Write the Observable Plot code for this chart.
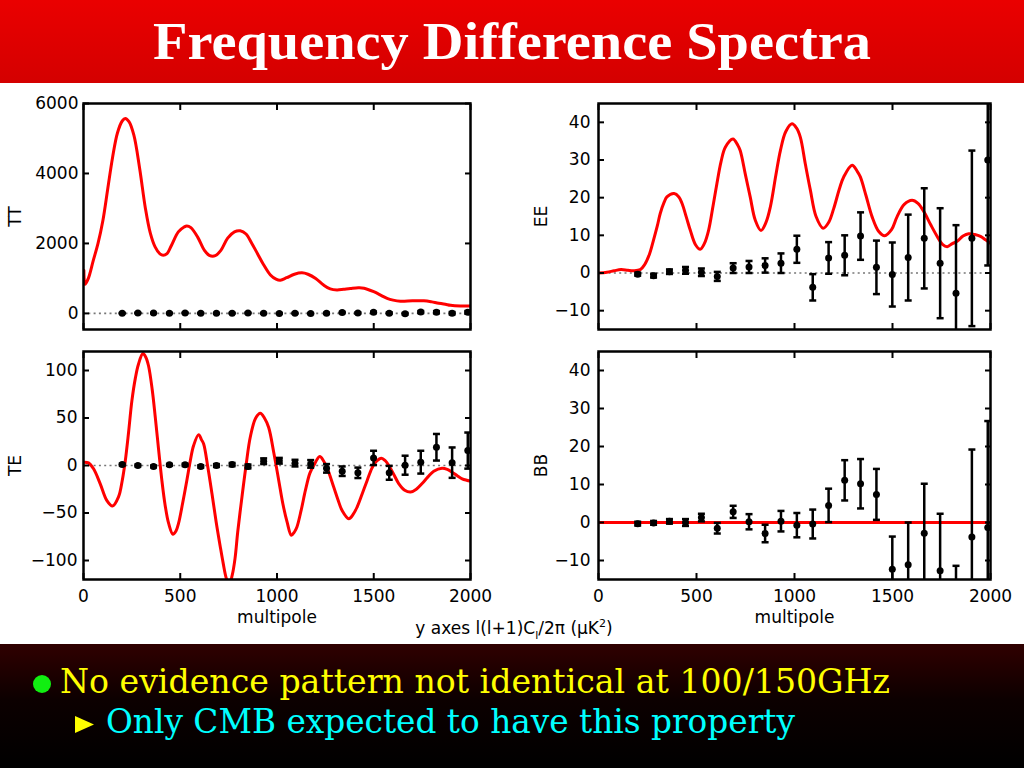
<!DOCTYPE html>
<html><head><meta charset="utf-8">
<script src="https://cdn.jsdelivr.net/npm/d3@7"></script>
<script src="https://cdn.jsdelivr.net/npm/@observablehq/plot@0.6"></script>
<style>
html,body{margin:0;padding:0;background:#fff;}
#page{position:relative;width:1024px;height:768px;overflow:hidden;background:#fff;}
.abs{position:absolute;}
</style>
</head><body>
<div id="page">
  <svg class="abs" style="left:0;top:0" width="1024" height="83">
    <defs><linearGradient id="hg" x1="0" y1="0" x2="0" y2="1"><stop offset="0" stop-color="#ea0000"/><stop offset="1" stop-color="#d40000"/></linearGradient></defs>
    <rect width="1024" height="83" fill="url(#hg)"/>
    <text x="512" y="59" text-anchor="middle" textLength="718" lengthAdjust="spacingAndGlyphs" font-family="Liberation Serif" font-weight="bold" font-size="52" fill="#fff">Frequency Difference Spectra</text>
  </svg>
  <div id="tt" class="abs" style="left:0;top:90px"></div>
  <div id="ee" class="abs" style="left:520px;top:90px"></div>
  <div id="te" class="abs" style="left:0;top:340px"></div>
  <div id="bb" class="abs" style="left:520px;top:340px"></div>
  <svg class="abs" style="left:0;top:600px" width="1024" height="44">
    <text x="514" y="34" text-anchor="middle" font-family="DejaVu Sans" font-size="17" fill="#000">y axes l(l+1)C<tspan dy="5" font-size="11">l</tspan><tspan dy="-5">/2π (μK</tspan><tspan dy="-7" font-size="11">2</tspan><tspan dy="7">)</tspan></text>
  </svg>
  <svg class="abs" style="left:0;top:644px" width="1024" height="124">
    <defs><linearGradient id="fg" x1="0" y1="0" x2="0" y2="1"><stop offset="0" stop-color="#300000"/><stop offset="0.45" stop-color="#0c0000"/><stop offset="1" stop-color="#000"/></linearGradient></defs>
    <rect width="1024" height="124" fill="url(#fg)"/>
    <circle cx="42" cy="40" r="9" fill="#11ee11"/>
    <text x="60" y="48.5" textLength="830" lengthAdjust="spacingAndGlyphs" font-family="DejaVu Serif" font-size="33" fill="#ffff00">No evidence pattern not identical at 100/150GHz</text>
    <polygon points="75,72 94,80.5 75,89" fill="#ffff00"/>
    <text x="106" y="88.5" textLength="689" lengthAdjust="spacingAndGlyphs" font-family="DejaVu Serif" font-size="33" fill="#00ffff">Only CMB expected to have this property</text>
  </svg>
</div>
<script>
// multipole bin centres
const ells = [200, 281, 362, 444, 525, 606, 687, 768, 850, 931, 1012, 1093, 1174, 1256, 1337, 1418, 1499, 1580, 1662, 1743, 1824, 1905, 1986];
const xTicks = [0, 500, 1000, 1500, 2000];

// difference-spectrum band powers and errors
const ttVals = [5, 10, 10, 8, 12, 5, 2, 6, 10, 3, 0, 2, -5, 3, 25, 10, 30, 8, -10, 40, 35, 5, 30];
const ttErrs = [8, 8, 8, 8, 9, 9, 10, 10, 11, 12, 13, 14, 15, 16, 18, 19, 21, 23, 25, 28, 31, 34, 38];
const eeVals = [-0.3, -0.7, 0.35, 0.7, 0.2, -0.9, 1.3, 1.6, 2.0, 2.6, 6.3, -3.8, 4.0, 4.7, 9.8, 1.5, -0.4, 4.1, 9.2, 2.6, -5.4, 9.2, 30];
const eeErrs = [0.4, 0.5, 0.6, 0.9, 1.0, 1.2, 1.3, 1.6, 1.9, 2.6, 3.6, 3.5, 4.2, 5.3, 6.3, 7.1, 8.5, 11.4, 13.3, 14.6, 18.1, 23.3, 28];
const teVals = [1, 0, -1, 0.7, 0.7, -1, 0, 1, -1, 4.5, 5, 2.5, 1.7, -3, -6, -7.7, 8, -7.7, 0.3, 3.5, 19.2, 3, 15.7];
const teErrs = [1, 1, 1, 1, 1.2, 1.3, 1.5, 1.7, 2, 3, 3, 3.5, 4, 4.5, 5, 5.5, 7.5, 7.3, 10, 12, 14, 16, 19];
const bbVals = [-0.3, -0.1, 0.3, 0, 1.3, -1.5, 2.8, 0.2, -2.9, 0.35, -0.7, -0.4, 4.5, 11.1, 10.2, 7.4, -12.3, -11.1, -2.8, -12.7, -29, -3.8, -1.3];
const bbErrs = [0.5, 0.5, 0.6, 0.9, 1.0, 1.4, 1.6, 2.0, 2.3, 2.7, 3.2, 3.8, 4.4, 5.3, 6.5, 6.7, 8.6, 11.1, 13, 15, 17.6, 23, 28];

// model spectra (red curves)
const ttModelL = [2, 8, 25, 50, 75, 100, 125, 150, 175, 200, 216, 235, 260, 290, 320, 345, 370, 395, 412, 430, 455, 490, 520, 534, 555, 590, 625, 650, 681, 710, 745, 780, 810, 840, 870, 900, 930, 966, 995, 1017, 1050, 1090, 1129, 1160, 1200, 1241, 1275, 1310, 1345, 1379, 1420, 1450, 1500, 1540, 1569, 1600, 1638, 1700, 1759, 1800, 1828, 1870, 1897, 1948, 2000];
const ttModelV = [1230, 830, 1000, 1500, 2000, 2650, 3550, 4450, 5150, 5500, 5570, 5480, 5100, 4150, 3000, 2300, 1900, 1700, 1660, 1700, 1950, 2330, 2470, 2500, 2450, 2180, 1800, 1660, 1650, 1800, 2150, 2330, 2360, 2270, 2000, 1700, 1400, 1100, 980, 950, 1020, 1120, 1160, 1120, 1000, 810, 700, 670, 690, 710, 730, 720, 620, 510, 430, 380, 350, 360, 360, 330, 300, 260, 230, 210, 210];
const eeModelL = [0, 43, 80, 115, 150, 180, 213, 235, 260, 281, 300, 315, 335, 349, 386, 410, 426, 450, 468, 495, 519, 540, 562, 585, 604, 625, 647, 686, 710, 723, 750, 774, 800, 829, 855, 877, 905, 928, 955, 987, 1010, 1030, 1055, 1081, 1110, 1146, 1175, 1200, 1230, 1251, 1294, 1320, 1336, 1365, 1396, 1430, 1460, 1495, 1523, 1560, 1600, 1630, 1660, 1695, 1728, 1755, 1779, 1805, 1830, 1860, 1889, 1920, 1949, 1975, 2000];
const eeModelV = [0, 0.2, 0.6, 0.9, 0.7, 0.6, 0.9, 2.2, 5, 8.8, 12.5, 15.8, 18.8, 20.2, 21.1, 20.2, 18.5, 14.5, 11.4, 7.5, 6.3, 7.8, 11.4, 18, 23.7, 29.5, 33.4, 35.6, 34, 32.5, 26, 20.2, 14, 11.3, 13.5, 17.6, 26, 32.5, 37.5, 39.6, 38.5, 36, 29, 22, 15, 11.9, 13.5, 17.1, 22.5, 25.5, 28.6, 27, 25.5, 20.5, 14.9, 11, 9.9, 11.5, 14.9, 18.2, 19.3, 18.5, 16.3, 12.8, 9.7, 7.6, 7.0, 7.8, 8.4, 9.8, 10.4, 10.2, 9.7, 8.8, 7.9];
const teModelL = [2, 26, 52, 86, 121, 150, 181, 200, 216, 233, 250, 268, 284, 307, 322, 336, 355, 371, 388, 405, 422, 440, 462, 478, 491, 512, 534, 552, 569, 595, 610, 621, 642, 664, 686, 707, 722, 737, 752, 768, 783, 797, 819, 840, 862, 890, 914, 935, 957, 983, 1009, 1030, 1052, 1074, 1090, 1103, 1125, 1147, 1170, 1190, 1221, 1240, 1260, 1293, 1315, 1336, 1371, 1395, 1414, 1440, 1466, 1490, 1509, 1540, 1560, 1578, 1605, 1629, 1660, 1690, 1720, 1750, 1780, 1810, 1853, 1880, 1905, 1930, 1957, 1980, 2000];
const teModelV = [3.5, 2.8, -3.5, -19, -37, -42.7, -33, -16, 5, 35, 68, 92, 106.6, 117.8, 114, 105, 80, 50.7, 17, -15.7, -42, -61, -72.4, -69, -61, -40, -15.7, 5, 21, 32.5, 27, 22.7, -1, -29.7, -60, -85.7, -103, -118, -126, -116, -98, -70, -33, 0, 30, 50, 55, 50, 40, 14, -15.7, -40, -59.4, -73.4, -70, -64.7, -47, -26, -8, 0, 9.4, 5, -3, -22.7, -36, -47.2, -56, -51, -43.7, -30, -15.7, -3, 3.5, 7.7, 5, 0, -10, -19, -26, -28, -25, -19, -12, -6, -2.8, -4, -7, -10.5, -14, -15.5, -16.4];
const bbModelL = [0, 2000];
const bbModelV = [0, 0];

const ttTicks = [0, 2000, 4000, 6000];
const eeTicks = [-10, 0, 10, 20, 30, 40];
const teTicks = [-100, -50, 0, 50, 100];
const bbTicks = [-10, 0, 10, 20, 30, 40];

const cap = {draw(ctx) { ctx.moveTo(-3.5, 0); ctx.lineTo(3.5, 0); }};
const FONT = "DejaVu Sans, Liberation Sans, Arial, sans-serif";
const FS = 17;
const fmt = d3.format("d");

function panel(o) {
  const pts = ells.map((l, i) => ({l, v: o.vals[i], e: o.errs[i]}));
  const curve = o.curveL.map((l, i) => ({l, v: o.curveV[i]}));
  const tickOnly = {fill: "none", tickSize: -6, strokeWidth: 2, label: null, stroke: "#000"};
  const marks = [
    Plot.ruleY([0], {stroke: "#777", strokeWidth: 1.6, strokeDasharray: "2,3.3"}),
    Plot.line(curve, {x: "l", y: "v", stroke: "#ff0000", strokeWidth: 3, curve: "catmull-rom", clip: true}),
    Plot.ruleX(pts, {x: "l", y1: d => d.v - d.e, y2: d => d.v + d.e, stroke: "#000", strokeWidth: 2.5, clip: true}),
    Plot.dot(pts, {x: "l", y: d => d.v + d.e, symbol: cap, fill: "none", stroke: "#000", strokeWidth: 2.5, clip: true}),
    Plot.dot(pts, {x: "l", y: d => d.v - d.e, symbol: cap, fill: "none", stroke: "#000", strokeWidth: 2.5, clip: true}),
    Plot.dot(pts, {x: "l", y: "v", r: 3.5, fill: "#000", stroke: "none", clip: true}),
    Plot.frame({stroke: "#000", strokeWidth: 2.5}),
    Plot.axisY({anchor: "left", ticks: o.yTicks, ...tickOnly}),
    Plot.axisY({anchor: "right", ticks: o.yTicks, ...tickOnly}),
    Plot.axisX({anchor: "bottom", ticks: xTicks, ...tickOnly}),
    Plot.axisX({anchor: "top", ticks: xTicks, ...tickOnly}),
    Plot.axisY({anchor: "left", ticks: o.yTicks, tickFormat: fmt, tickSize: 0, tickPadding: o.yPad, label: null, fontSize: FS, fill: "#000"}),
    Plot.text([o.label], {text: d => d, frameAnchor: "left", textAnchor: "middle", lineAnchor: "middle", dx: o.labelDx, rotate: -90, fontSize: FS, fill: "#000"})
  ];
  if (o.showX) {
    marks.push(Plot.axisX({anchor: "bottom", ticks: xTicks, tickFormat: fmt, tickSize: 0, tickPadding: 10, label: null, fontSize: FS, fill: "#000"}));
    marks.push(Plot.text(["multipole"], {text: d => d, frameAnchor: "bottom", textAnchor: "middle", lineAnchor: "middle", dy: 38, fontSize: FS, fill: "#000"}));
  }
  return Plot.plot({
    width: o.width, height: o.height,
    marginLeft: o.ml, marginRight: o.mr, marginTop: o.mt, marginBottom: o.mb,
    style: {fontFamily: FONT, fontSize: FS + "px", background: "transparent", overflow: "visible", color: "#000"},
    x: {domain: [0, 2000]},
    y: {domain: o.yDomain},
    marks
  });
}

document.getElementById("tt").append(panel({vals: ttVals, errs: ttErrs, curveL: ttModelL, curveV: ttModelV, yDomain: [-460, 6000], yTicks: ttTicks, label: "TT", labelDx: -68, yPad: 5, showX: false, width: 500, height: 250, ml: 83, mr: 30, mt: 13, mb: 11}));
document.getElementById("ee").append(panel({vals: eeVals, errs: eeErrs, curveL: eeModelL, curveV: eeModelV, yDomain: [-15, 45], yTicks: eeTicks, label: "EE", labelDx: -57, yPad: 8, showX: false, width: 504, height: 250, ml: 78, mr: 34, mt: 13, mb: 11}));
document.getElementById("te").append(panel({vals: teVals, errs: teErrs, curveL: teModelL, curveV: teModelV, yDomain: [-120, 120], yTicks: teTicks, label: "TE", labelDx: -68, yPad: 6, showX: true, width: 500, height: 300, ml: 83, mr: 30, mt: 11, mb: 61}));
document.getElementById("bb").append(panel({vals: bbVals, errs: bbErrs, curveL: bbModelL, curveV: bbModelV, yDomain: [-15, 45], yTicks: bbTicks, label: "BB", labelDx: -57, yPad: 8, showX: true, width: 504, height: 300, ml: 78, mr: 34, mt: 11, mb: 61}));
</script>
</body></html>
